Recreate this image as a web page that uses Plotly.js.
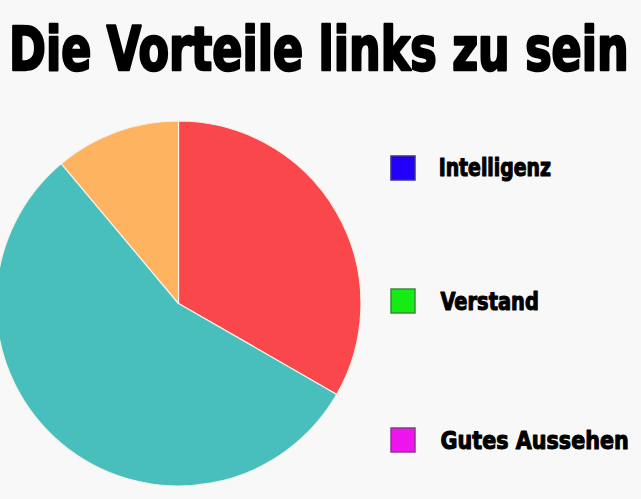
<!DOCTYPE html>
<html>
<head>
<meta charset="utf-8">
<script src="https://cdn.plot.ly/plotly-3.0.1.min.js"></script>
<style>
  html, body { margin: 0; padding: 0; background: #f8f8f8; overflow: hidden; width: 641px; height: 499px; }
  #chart { position: absolute; left: -4px; top: 0; width: 645px; height: 499px; }
</style>
</head>
<body>
<div id="chart"></div>
<script>
// ---- data ----
const titleText = "Die Vorteile links zu sein";
const sliceLabels = ["Intelligenz", "Verstand", "Gutes Aussehen"];
const sliceValues = [33.3, 55.6, 11.1];
const sliceColors = ["#f9474c", "#48bfbd", "#fdb35f"];
const legendLabels = ["Intelligenz", "Verstand", "Gutes Aussehen"];
const legendColors = ["#2200f8", "#14ec14", "#ee14ee"];
const legendBorders = ["#3c2f8c", "#3d8a3d", "#8a3a8a"];

// ---- layout helpers (screen px -> paper) ----
const W = 645, H = 499, OFF = 4;
const px = x => (x + OFF) / W;
const py = y => 1 - y / H;

const FONT = '"Liberation Sans Narrow", "DejaVu Sans Condensed", sans-serif';
const legendTop = [156, 289, 428];
const legendInk = [
  {x0: 439, x1: 551, yt: 156.5, yb: 177},
  {x0: 440, x1: 538, yt: 290, yb: 311},
  {x0: 441, x1: 628, yt: 429, yb: 450}
];
const titleInk = {x0: 11, x1: 627, yt: 21.5, yb: 71};

const shapes = legendLabels.map((l, i) => ({
  type: 'rect', xref: 'paper', yref: 'paper',
  x0: px(391), x1: px(415), y0: py(legendTop[i]), y1: py(legendTop[i] + 24),
  fillcolor: legendColors[i], line: {color: legendBorders[i], width: 1.5}
}));

const annotations = legendLabels.map((l, i) => ({
  text: l, xref: 'paper', yref: 'paper', x: px(440), y: py(legendTop[i] + 12),
  xanchor: 'left', yanchor: 'middle', showarrow: false,
  font: {family: FONT, size: 24, color: '#000', weight: 700}
}));

const trace = {
  type: 'pie',
  labels: sliceLabels,
  values: sliceValues,
  marker: {colors: sliceColors, line: {color: '#f4f1e6', width: 1.2}},
  sort: false,
  direction: 'clockwise',
  rotation: 0,
  textinfo: 'none',
  hoverinfo: 'label+percent',
  showlegend: false,
  domain: {x: [0, 365 / W], y: [13 / H, 378 / H]}
};

const layout = {
  width: W, height: H,
  margin: {l: 0, r: 0, t: 0, b: 0},
  paper_bgcolor: '#f8f8f8', plot_bgcolor: '#f8f8f8',
  showlegend: false,
  title: {text: titleText, x: 0.5, xanchor: 'center', y: py(60), yanchor: 'bottom', yref: 'paper',
          font: {family: FONT, size: 48, color: '#000', weight: 700}},
  shapes: shapes,
  annotations: annotations
};

const cvs = document.createElement('canvas').getContext('2d');
// fit the text's ink box to the target box; sw = extra stroke (screen px) to embolden
function fitText(el, str, fs, tgt, sw) {
  const h = sw / 2;
  const T = {x0: tgt.x0 + h, x1: tgt.x1 - h, yt: tgt.yt + h, yb: tgt.yb - h};
  const parent = el.parentNode;
  const g = document.createElementNS('http://www.w3.org/2000/svg', 'g');
  parent.insertBefore(g, el); g.appendChild(el);
  const r = el.getBoundingClientRect();
  cvs.font = `700 ${fs}px ${FONT}`;
  const m = cvs.measureText(str);
  const baseline = r.bottom - m.fontBoundingBoxDescent;
  const inkL = r.left - m.actualBoundingBoxLeft;
  const inkR = r.left + m.actualBoundingBoxRight;
  const inkT = baseline - m.actualBoundingBoxAscent;
  const sx = (T.x1 - T.x0) / (inkR - inkL);
  const sy = (T.yb - T.yt) / (baseline - inkT);
  const M = parent.getScreenCTM();
  const e = M.e, f = M.f;
  const tx = T.x0 - e + sx * (e - inkL);
  const ty = T.yb - f + sy * (f - baseline);
  g.setAttribute('transform', `matrix(${sx},0,0,${sy},${tx},${ty})`);
  el.style.stroke = '#000';
  el.style.strokeWidth = sw + 'px';
  el.style.strokeLinejoin = 'round';
  el.setAttribute('vector-effect', 'non-scaling-stroke');
  el.style.vectorEffect = 'non-scaling-stroke';
  el.querySelectorAll('tspan').forEach(s => { s.style.vectorEffect = 'non-scaling-stroke'; });
}

Plotly.newPlot('chart', [trace], layout, {displayModeBar: false, staticPlot: true}).then(() => {
  const t = document.querySelector('.gtitle');
  if (t) fitText(t, titleText, 48, titleInk, 2.2);
  const anns = document.querySelectorAll('.annotation-text');
  anns.forEach((a, i) => fitText(a, legendLabels[i], 24, legendInk[i], 1.0));
});
</script>
</body>
</html>
